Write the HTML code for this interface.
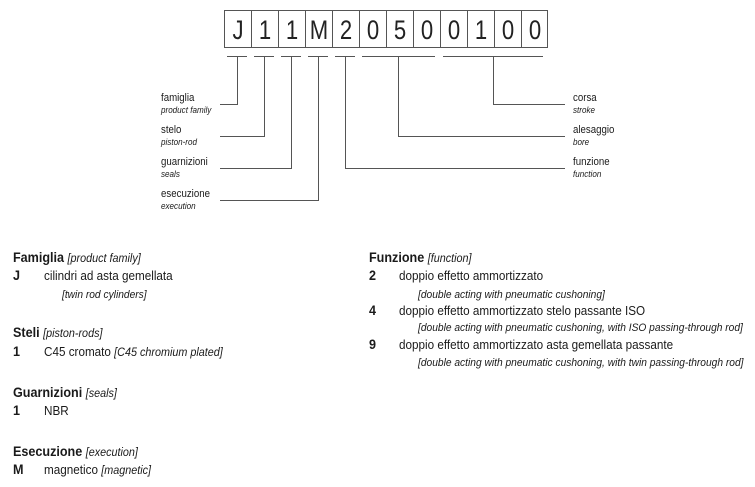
<!DOCTYPE html>
<html><head><meta charset="utf-8"><style>
html,body{margin:0;padding:0;background:#fff;}
svg{display:block;font-family:"Liberation Sans",Arial,sans-serif;fill:#1a1a1a;}
.b{font-weight:bold;}
.i{font-style:italic;}
</style></head><body>
<svg width="755" height="487" viewBox="0 0 755 487" xmlns="http://www.w3.org/2000/svg">
<g stroke="#555" stroke-width="1" fill="none">
<rect x="224.5" y="10.5" width="323" height="37"/>
<path d="M251.5 10v38M278.5 10v38M305.5 10v38M332.5 10v38M359.5 10v38M386.5 10v38M413.5 10v38M440.5 10v38M467.5 10v38M494.5 10v38M521.5 10v38"/>
<path d="M227 56.5h20M254 56.5h20M281 56.5h20M308 56.5h20M335 56.5h20M362 56.5h73M443 56.5h100"/>
<path d="M237.5 57V104.5H220M264.5 57V136.5H220M291.5 57V168.5H220M318.5 57V200.5H220"/>
<path d="M493.5 57V104.5H565M398.5 57V136.5H565M345.5 57V168.5H565"/>
</g>
<g font-size="27" fill="#222">
<text transform="translate(238,39) scale(0.82,1)" text-anchor="middle">J</text>
<text transform="translate(265,39) scale(0.82,1)" text-anchor="middle">1</text>
<text transform="translate(292,39) scale(0.82,1)" text-anchor="middle">1</text>
<text transform="translate(319,39) scale(0.82,1)" text-anchor="middle">M</text>
<text transform="translate(346,39) scale(0.82,1)" text-anchor="middle">2</text>
<text transform="translate(373,39) scale(0.82,1)" text-anchor="middle">0</text>
<text transform="translate(400,39) scale(0.82,1)" text-anchor="middle">5</text>
<text transform="translate(427,39) scale(0.82,1)" text-anchor="middle">0</text>
<text transform="translate(454,39) scale(0.82,1)" text-anchor="middle">0</text>
<text transform="translate(481,39) scale(0.82,1)" text-anchor="middle">1</text>
<text transform="translate(508,39) scale(0.82,1)" text-anchor="middle">0</text>
<text transform="translate(535,39) scale(0.82,1)" text-anchor="middle">0</text>
</g>
<g font-size="11">
<text transform="translate(161,101) scale(0.88,1)">famiglia</text>
<text class="i" font-size="9" transform="translate(161,113) scale(0.9,1)">product family</text>
<text transform="translate(161,133) scale(0.88,1)">stelo</text>
<text class="i" font-size="9" transform="translate(161,145) scale(0.9,1)">piston-rod</text>
<text transform="translate(161,165) scale(0.88,1)">guarnizioni</text>
<text class="i" font-size="9" transform="translate(161,177) scale(0.9,1)">seals</text>
<text transform="translate(161,197) scale(0.88,1)">esecuzione</text>
<text class="i" font-size="9" transform="translate(161,209) scale(0.9,1)">execution</text>
<text transform="translate(573,101) scale(0.88,1)">corsa</text>
<text class="i" font-size="9" transform="translate(573,113) scale(0.9,1)">stroke</text>
<text transform="translate(573,133) scale(0.88,1)">alesaggio</text>
<text class="i" font-size="9" transform="translate(573,145) scale(0.9,1)">bore</text>
<text transform="translate(573,165) scale(0.88,1)">funzione</text>
<text class="i" font-size="9" transform="translate(573,177) scale(0.9,1)">function</text>
</g>
<g font-size="14">
<text transform="translate(13,262) scale(0.9,1)"><tspan class="b">Famiglia</tspan> <tspan class="i" font-size="12">[product family]</tspan></text>
<text class="b" transform="translate(13,280) scale(0.9,1)">J</text>
<text font-size="13" transform="translate(44,280) scale(0.9,1)">cilindri ad asta gemellata</text>
<text class="i" font-size="11" transform="translate(62,298) scale(0.93,1)">[twin rod cylinders]</text>
<text transform="translate(13,337) scale(0.9,1)"><tspan class="b">Steli</tspan> <tspan class="i" font-size="12">[piston-rods]</tspan></text>
<text class="b" transform="translate(13,356) scale(0.9,1)">1</text>
<text font-size="13" transform="translate(44,356) scale(0.9,1)">C45 cromato <tspan class="i" font-size="12">[C45 chromium plated]</tspan></text>
<text transform="translate(13,397) scale(0.9,1)"><tspan class="b">Guarnizioni</tspan> <tspan class="i" font-size="12">[seals]</tspan></text>
<text class="b" transform="translate(13,415) scale(0.9,1)">1</text>
<text font-size="13" transform="translate(44,415) scale(0.9,1)">NBR</text>
<text transform="translate(13,456) scale(0.9,1)"><tspan class="b">Esecuzione</tspan> <tspan class="i" font-size="12">[execution]</tspan></text>
<text class="b" transform="translate(13,474) scale(0.9,1)">M</text>
<text font-size="13" transform="translate(44,474) scale(0.9,1)">magnetico <tspan class="i" font-size="12">[magnetic]</tspan></text>

<text transform="translate(369,262) scale(0.9,1)"><tspan class="b">Funzione</tspan> <tspan class="i" font-size="12">[function]</tspan></text>
<text class="b" transform="translate(369,280) scale(0.9,1)">2</text>
<text font-size="13" transform="translate(399,280) scale(0.9,1)">doppio effetto ammortizzato</text>
<text class="i" font-size="11" transform="translate(418,298) scale(0.93,1)">[double acting with pneumatic cushoning]</text>
<text class="b" transform="translate(369,315) scale(0.9,1)">4</text>
<text font-size="13" transform="translate(399,315) scale(0.9,1)">doppio effetto ammortizzato stelo passante ISO</text>
<text class="i" font-size="11" transform="translate(418,331) scale(0.93,1)">[double acting with pneumatic cushoning, with ISO passing-through rod]</text>
<text class="b" transform="translate(369,349) scale(0.9,1)">9</text>
<text font-size="13" transform="translate(399,349) scale(0.9,1)">doppio effetto ammortizzato asta gemellata passante</text>
<text class="i" font-size="11" transform="translate(418,366) scale(0.93,1)">[double acting with pneumatic cushoning, with twin passing-through rod]</text>
</g>
</svg>
</body></html>
